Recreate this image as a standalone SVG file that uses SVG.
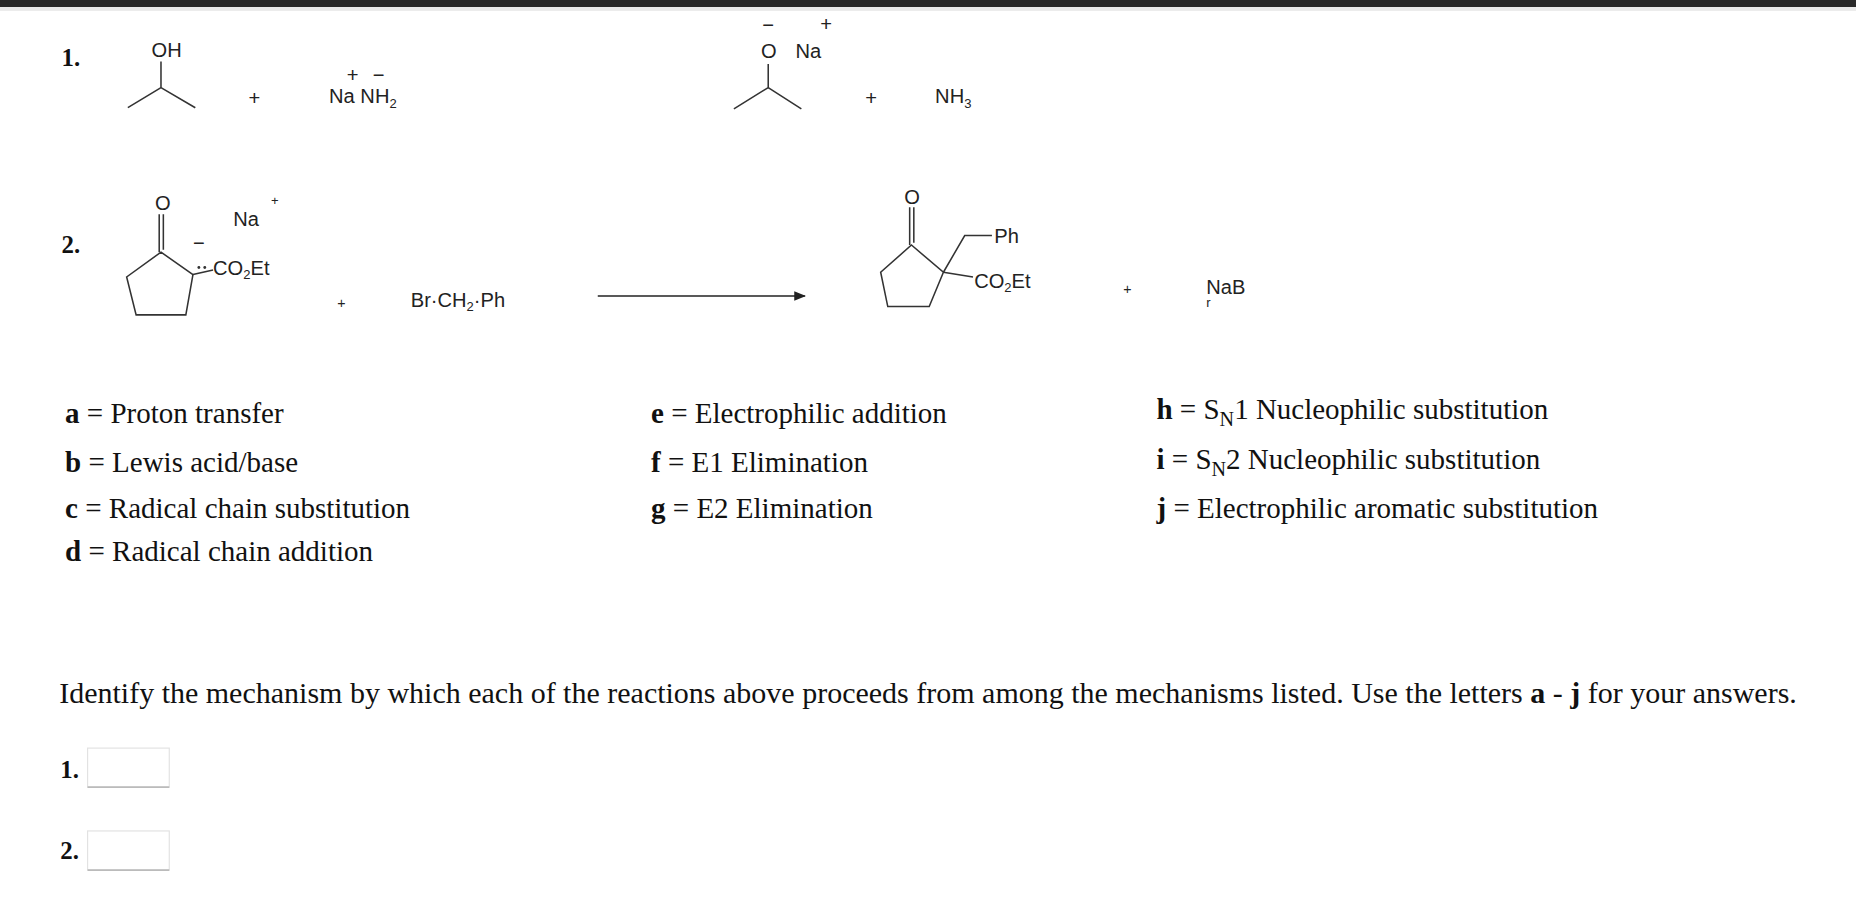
<svg xmlns="http://www.w3.org/2000/svg" width="1856" height="922" viewBox="0 0 1856 922">
<style>
.s{font-family:"Liberation Sans",Arial,sans-serif;font-size:17px;fill:#222}
.sub{font-size:11px}
.t{font-family:"Liberation Serif","Times New Roman",serif;font-size:24.5px;fill:#111}
.n{font-family:"Liberation Serif","Times New Roman",serif;font-size:21px;font-weight:bold;fill:#111}
.b{stroke:#333;stroke-width:1.3;fill:none}
</style>
<defs><marker id="ah" markerWidth="10" markerHeight="8" refX="9" refY="4" orient="auto" markerUnits="userSpaceOnUse"><path d="M0,0 L10,4 L0,8 Z" fill="#222"/></marker></defs>
<rect width="1856" height="922" fill="#fff"/>
<rect width="1856" height="7" fill="#2a2a2a"/>
<rect y="7" width="1856" height="4" fill="#ececec"/>
<g transform="scale(1.1837)">
<g id="r1">
<text class="n" x="52" y="56">1.</text>
<g id="r1-alcohol"><text class="s" x="128" y="48">OH</text><path class="b" d="M136,52 L136,74 M136,74 L108,91 M136,74 L165,91"/></g>
<text class="s" x="210" y="89">+</text>
<g id="r1-amide"><text class="s" x="293" y="69">+</text><text class="s" x="315" y="69">−</text><text class="s" x="278" y="87">Na NH<tspan class="sub" dy="4">2</tspan></text></g>
<g id="r1-alkoxide"><text class="s" x="644" y="27">−</text><text class="s" x="693" y="26">+</text><text class="s" x="643" y="49">O</text><text class="s" x="672" y="49">Na</text><path class="b" d="M649,54 L649,74 M649,74 L620,92 M649,74 L677,92"/></g>
<text class="s" x="731" y="89">+</text>
<g id="r1-nh3"><text class="s" x="790" y="87">NH<tspan class="sub" dy="4">3</tspan></text></g>
</g>
<g id="r2">
<text class="n" x="52" y="214">2.</text>
<g id="r2-enolate">
<text class="s" x="131" y="177">O</text>
<path class="b" d="M134.5,181 L134.5,213 M138,181 L138,211"/>
<path class="b" d="M136,213 L163,232 L157,266 L115,266 L107,234 Z"/>
<circle cx="168" cy="226" r="1.2" fill="#333"/><circle cx="173" cy="226" r="1.2" fill="#333"/>
<path class="b" d="M163,232 L180,228"/>
<text class="s" x="163" y="211">−</text>
<text class="s" x="197" y="191">Na</text><text class="s" x="229" y="173" style="font-size:11px">+</text>
<text class="s" x="180" y="232">CO<tspan class="sub" dy="4">2</tspan><tspan dy="-4">Et</tspan></text>
</g>
<text class="s" x="285" y="260" style="font-size:12px">+</text>
<g id="r2-bromide"><text class="s" x="347" y="259">Br·CH<tspan class="sub" dy="4">2</tspan><tspan dy="-4">·Ph</tspan></text></g>
<g id="r2-product">
<text class="s" x="764" y="172">O</text>
<path class="b" d="M768.5,175 L768.5,207 M772,175 L772,205"/>
<path class="b" d="M770,207 L797,230 L785,259 L750,259 L744,230 Z"/>
<path class="b" d="M797,230 L815,199 L838,199 M797,230 L822,234"/>
<text class="s" x="840" y="205">Ph</text>
<text class="s" x="823" y="243">CO<tspan class="sub" dy="4">2</tspan><tspan dy="-4">Et</tspan></text>
</g>
<text class="s" x="949" y="248" style="font-size:12px">+</text>
<g id="r2-nabr"><text class="s" x="1019" y="248">NaB</text><text class="s" x="1019" y="259" style="font-size:11px">r</text></g>
</g>
<g id="connectors"><path d="M505,250 L680,250" stroke="#222" stroke-width="1.2" marker-end="url(#ah)"/></g>
<g id="legend">
<text class="t" x="55" y="357"><tspan font-weight="bold">a</tspan> = Proton transfer</text>
<text class="t" x="55" y="399"><tspan font-weight="bold">b</tspan> = Lewis acid/base</text>
<text class="t" x="55" y="438"><tspan font-weight="bold">c</tspan> = Radical chain substitution</text>
<text class="t" x="55" y="474"><tspan font-weight="bold">d</tspan> = Radical chain addition</text>
<text class="t" x="550" y="357"><tspan font-weight="bold">e</tspan> = Electrophilic addition</text>
<text class="t" x="550" y="399"><tspan font-weight="bold">f</tspan> = E1 Elimination</text>
<text class="t" x="550" y="438"><tspan font-weight="bold">g</tspan> = E2 Elimination</text>
<text class="t" x="977" y="354"><tspan font-weight="bold">h</tspan> = S<tspan dy="6" font-size="17">N</tspan><tspan dy="-6">1 Nucleophilic substitution</tspan></text>
<text class="t" x="977" y="396"><tspan font-weight="bold">i</tspan> = S<tspan dy="6" font-size="17">N</tspan><tspan dy="-6">2 Nucleophilic substitution</tspan></text>
<text class="t" x="977" y="438"><tspan font-weight="bold">j</tspan> = Electrophilic aromatic substitution</text>
</g>
<g id="question">
<text class="t" x="50" y="594" textLength="1468" lengthAdjust="spacingAndGlyphs">Identify the mechanism by which each of the reactions above proceeds from among the mechanisms listed. Use the letters <tspan font-weight="bold">a</tspan> - <tspan font-weight="bold">j</tspan> for your answers.</text>
<text class="n" x="51" y="657">1.</text>
<rect x="74" y="632" width="69" height="33" fill="#fff" stroke="#e2e2e2"/><path d="M74,665 L143,665" stroke="#bbb" stroke-width="1.5"/>
<text class="n" x="51" y="726">2.</text>
<rect x="74" y="702" width="69" height="33" fill="#fff" stroke="#e2e2e2"/><path d="M74,735 L143,735" stroke="#bbb" stroke-width="1.5"/>
</g>
</g>
</svg>
